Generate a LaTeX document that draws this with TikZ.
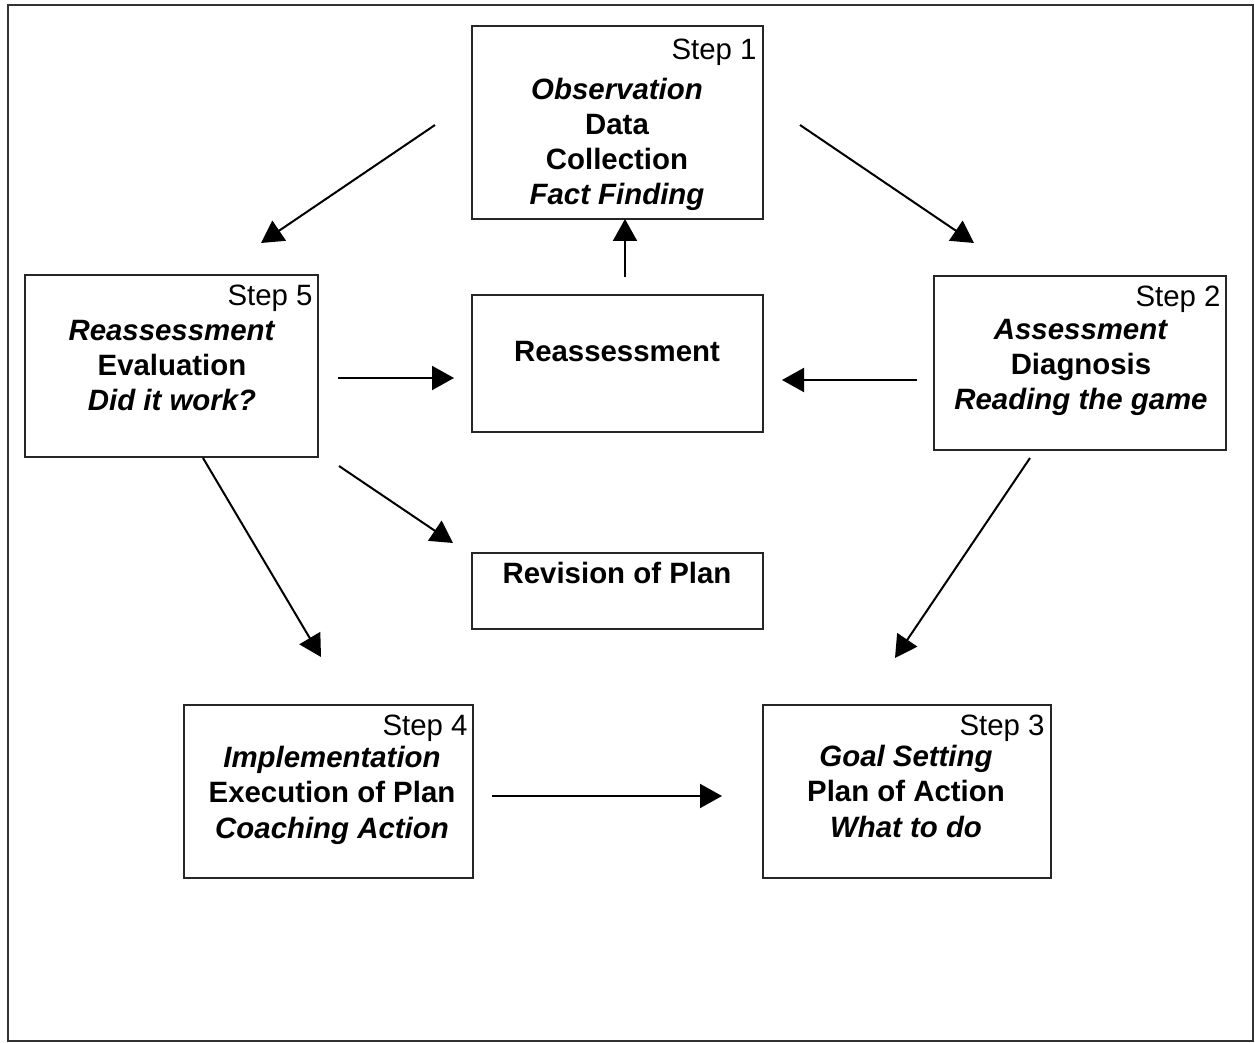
\documentclass[tikz,border=0pt]{standalone}
\usepackage{fontspec}
\setmainfont{Liberation Sans}
\usetikzlibrary{arrows.meta}
\newcommand\diagfont{\fontsize{14.7pt}{17.6pt}\selectfont}
\begin{document}
\begin{tikzpicture}[x=0.5pt,y=-0.5pt,
  box/.style={draw=black!85, line width=1.2pt, inner sep=0pt, rectangle},
  steplabel/.style={anchor=base east, inner sep=0pt, font=\diagfont},
  body/.style={anchor=base, align=center, inner sep=0pt, font=\diagfont\bfseries},
  arr/.style={draw=black, line width=1pt, -{Triangle[length=11pt,width=12pt]}},
  frame/.style={draw=black!80, line width=1.4pt}]
\useasboundingbox (0,0) rectangle (1255,1043);
\draw[frame] (8,5) rectangle (1253,1041);

% boxes
\node[box, minimum width=145.5pt, minimum height=96.5pt] (s1) at (617.5,122.5) {};
\node[box, minimum width=146.5pt, minimum height=91pt]   (s5) at (171.5,366) {};
\node[box, minimum width=145.5pt, minimum height=68.5pt] (re) at (617.5,363.5) {};
\node[box, minimum width=146pt,   minimum height=87pt]   (s2) at (1080,363) {};
\node[box, minimum width=145.5pt, minimum height=38pt]   (rv) at (617.5,591) {};
\node[box, minimum width=144.5pt, minimum height=86.5pt] (s4) at (328.5,791.5) {};
\node[box, minimum width=144pt,   minimum height=86.5pt] (s3) at (907,791.5) {};

% step labels
\node[steplabel] (l1) at (757,60)   {Step 1};
\node[steplabel] (l5) at (313,306)  {Step 5};
\node[steplabel] (l2) at (1221,307) {Step 2};
\node[steplabel] (l4) at (468,735)  {Step 4};
\node[steplabel] (l3) at (1045,735) {Step 3};

% box texts (anchored on the baseline of their last line)
\node[body] (t1) at (617,205)  {\textit{Observation}\\Data\\Collection\\\textit{Fact Finding}};
\node[body] (t5) at (172,411)  {\textit{Reassessment}\\Evaluation\\\textit{Did it work?}};
\node[body] (t2) at (1081,410) {\textit{Assessment}\\Diagnosis\\\textit{Reading the game}};
\node[body] (t4) at (332,838)  {\textit{Implementation}\\Execution of Plan\\\textit{Coaching Action}};
\node[body] (t3) at (906,837)  {\textit{Goal Setting}\\Plan of Action\\\textit{What to do}};
\node[body] (tr) at (617,362)  {Reassessment};
\node[body] (tv) at (617,583)  {Revision of Plan};

% connector ends
\coordinate (a1s) at (435,125);  \coordinate (a1e) at (261,243);
\coordinate (a2s) at (800,125);  \coordinate (a2e) at (974,243);
\coordinate (a3s) at (625,277);  \coordinate (a3e) at (625,219);
\coordinate (a4s) at (338,378);  \coordinate (a4e) at (454,378);
\coordinate (a5s) at (917,380);  \coordinate (a5e) at (782,380);
\coordinate (a6s) at (339,466);  \coordinate (a6e) at (453,543);
\coordinate (a7s) at (203,458);  \coordinate (a7e) at (321,657);
\coordinate (a8s) at (1030,458); \coordinate (a8e) at (895,658);
\coordinate (a9s) at (492,796);  \coordinate (a9e) at (722,796);

\draw[arr] (a1s) -- (a1e);
\draw[arr] (a2s) -- (a2e);
\draw[arr] (a3s) -- (a3e);
\draw[arr] (a4s) -- (a4e);
\draw[arr] (a5s) -- (a5e);
\draw[arr] (a6s) -- (a6e);
\draw[arr] (a7s) -- (a7e);
\draw[arr] (a8s) -- (a8e);
\draw[arr] (a9s) -- (a9e);
\end{tikzpicture}
\end{document}
